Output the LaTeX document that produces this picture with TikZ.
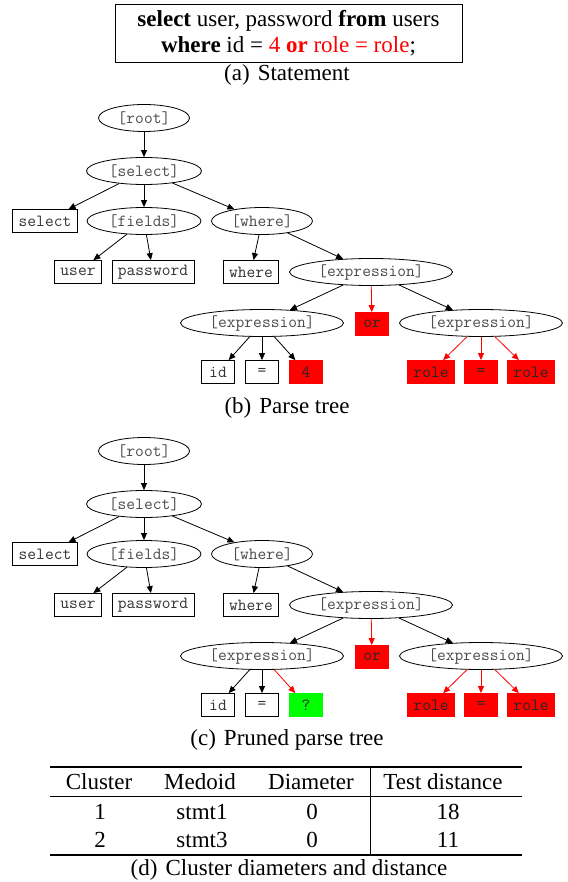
\documentclass[tikz,border=0pt]{standalone}
\usepackage{fontspec}
\setmainfont{Liberation Serif}[BoldFont={Liberation Serif Bold},ItalicFont={Liberation Serif Italic}]
\usetikzlibrary{shapes.geometric,arrows.meta}
\newcommand\mytree[5]{%
 \begin{scope}[yshift=#1,name prefix=#2-]
  \node[ell,minimum width=91pt]  (root)   at (144,118) {[root]};
  \node[ell,minimum width=115pt] (sel)    at (144,171) {[select]};
  \node[box]                     (selk)   at (45,221)  {select};
  \node[ell,minimum width=114pt] (fields) at (144,221) {[fields]};
  \node[ell,minimum width=101pt] (where)  at (262,221) {[where]};
  \node[box]                     (user)   at (78,272)  {user};
  \node[box]                     (pwd)    at (153,272) {password};
  \node[box]                     (wherek) at (251,272) {where};
  \node[ell,minimum width=163pt] (expr)   at (371,272) {[expression]};
  \node[ell,minimum width=163pt] (exprl)  at (262,323) {[expression]};
  \node[rbox]                    (or)     at (372,324) {or};
  \node[ell,minimum width=163pt] (exprr)  at (481,323) {[expression]};
  \node[box]                     (id)     at (218,372) {id};
  \node[box]                     (eq)     at (262,372) {=};
  \node[#3]                      (leaf)   at (306,372) {#4};
  \node[rbox]                    (role1)  at (431,372) {role};
  \node[rbox]                    (eq2)    at (481,372) {=};
  \node[rbox]                    (role2)  at (531,372) {role};
  \draw[arr] (root) -- (sel);
  \draw[arr] (sel) -- (selk);
  \draw[arr] (sel) -- (fields);
  \draw[arr] (sel) -- (where);
  \draw[arr] (fields) -- (user);
  \draw[arr] (fields) -- (pwd);
  \draw[arr] (where) -- (wherek);
  \draw[arr] (where) -- (expr);
  \draw[arr] (expr) -- (exprl);
  \draw[rarr] (expr) -- (or);
  \draw[arr] (expr) -- (exprr);
  \draw[arr] (exprl) -- (id);
  \draw[arr] (exprl) -- (eq);
  \draw[#5] (exprl) -- (leaf);
  \draw[rarr] (exprr) -- (role1);
  \draw[rarr] (exprr) -- (eq2);
  \draw[rarr] (exprr) -- (role2);
 \end{scope}}
\begin{document}
\begin{tikzpicture}[x=1pt,y=-1pt,
  ell/.style={ellipse,draw,line width=0.8pt,inner sep=0pt,minimum height=27pt,
    font=\ttfamily\fontsize{17}{17}\selectfont,text=black!70},
  box/.style={rectangle,draw,line width=0.8pt,inner sep=0pt,inner xsep=6pt,
    minimum height=23pt,minimum width=33pt,
    font=\ttfamily\fontsize{17}{17}\selectfont,text=black!80},
  rbox/.style={box,fill=red,draw=red,text=black!85},
  gbox/.style={box,fill=green,draw=green,text=black!85},
  arr/.style={line width=0.8pt,-{Triangle[length=7pt,width=6pt]}},
  rarr/.style={arr,draw=red},
  captext/.style={anchor=base,font=\fontsize{23}{26}\selectfont,inner sep=0pt},
  cell/.style={anchor=base,font=\fontsize{23}{26}\selectfont,inner sep=0pt}]
\useasboundingbox[fill=white] (0,0) rectangle (567,882);

% (a) statement
\node[draw,line width=0.9pt,minimum width=347pt,minimum height=58pt,inner sep=0pt,
  align=center,font=\fontsize{23}{26}\selectfont] (stmt) at (288.5,33)
  {\textbf{select} user, password \textbf{from} users\\
   \textbf{where} id = \textcolor{red}{4 \textbf{or} role = role};};
\node[captext] (capa) at (287,81) {(a)\hspace{0.35em}Statement};

% (b) parse tree
\mytree{0pt}{b}{rbox}{4}{arr}
\node[captext] (capb) at (287,413) {(b)\hspace{0.35em}Parse tree};

% (c) pruned parse tree
\mytree{-333pt}{c}{gbox}{?}{rarr}
\node[captext] (capc) at (287,745) {(c)\hspace{0.35em}Pruned parse tree};

% (d) table
\draw[line width=1.1pt] (50,767) -- (522,767);
\draw[line width=0.8pt] (50,796) -- (522,796);
\draw[line width=1.1pt] (50,855) -- (522,855);
\draw[line width=0.8pt] (370,767) -- (370,855);
\node[cell] (h1) at (99,789)  {Cluster};
\node[cell] (h2) at (200,789) {Medoid};
\node[cell] (h3) at (311,789) {Diameter};
\node[cell] (h4) at (443,789) {Test distance};
\node[cell] (r11) at (100,819) {1};
\node[cell] (r12) at (202,819) {stmt1};
\node[cell] (r13) at (312,819) {0};
\node[cell] (r14) at (448,819) {18};
\node[cell] (r21) at (100,847) {2};
\node[cell] (r22) at (202,847) {stmt3};
\node[cell] (r23) at (312,847) {0};
\node[cell] (r24) at (448,847) {11};
\node[captext] (capd) at (289,875) {(d)\hspace{0.35em}Cluster diameters and distance};
\end{tikzpicture}
\end{document}
